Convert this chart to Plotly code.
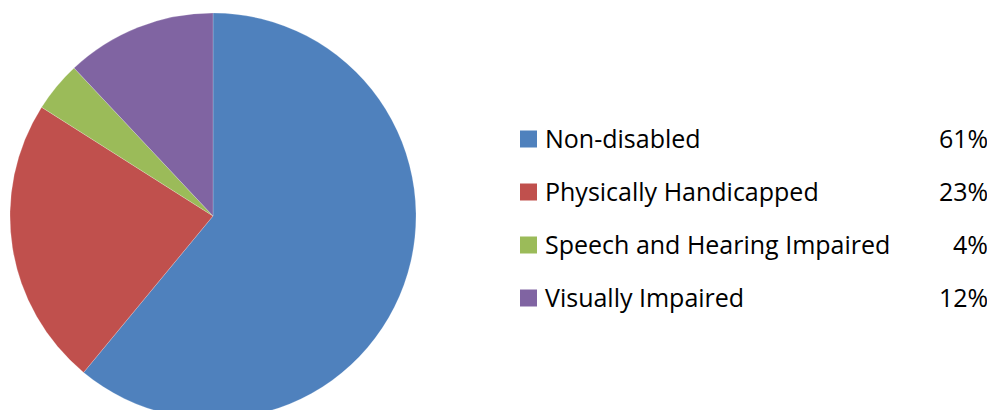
import plotly.graph_objects as go

categories = ["Non-disabled", "Physically Handicapped", "Speech and Hearing Impaired", "Visually Impaired"]
values = [61, 23, 4, 12]
colors = ["#4F81BD", "#C0504D", "#9BBB59", "#8064A2"]

W, H = 995, 416
OFF = 8  # page body offset
FONT = "Open Sans"

fig = go.Figure()
fig.add_trace(go.Pie(
    labels=categories,
    values=values,
    sort=False,
    direction="clockwise",
    rotation=0,
    marker=dict(colors=colors, line=dict(color="rgba(255,255,255,0.4)", width=0.5)),
    textinfo="none",
    hoverinfo="label+percent",
    showlegend=False,
    domain=dict(x=[2 / W, 408 / W], y=[0, 1]),
))

row_y = [139, 192, 245, 298]
for cat, val, col, yy in zip(categories, values, colors, row_y):
    py = yy - OFF
    fig.add_shape(type="rect", xref="paper", yref="paper",
                  x0=(520 - OFF) / W, x1=(537 - OFF) / W,
                  y0=1 - (py + 8.5) / H, y1=1 - (py - 8.5) / H,
                  fillcolor=col, line=dict(width=0))
    fig.add_annotation(x=(543 - OFF) / W, y=1 - (py - 1) / H, xref="paper", yref="paper",
                       text=cat, showarrow=False, xanchor="left", yanchor="middle",
                       font=dict(family=FONT, size=25, color="#000000"))
    fig.add_annotation(x=(990 - OFF) / W, y=1 - (py - 1) / H, xref="paper", yref="paper",
                       text=f"{val}%", showarrow=False, xanchor="right", yanchor="middle",
                       font=dict(family=FONT, size=25, color="#000000"))

fig.update_layout(
    width=W, height=H,
    margin=dict(l=0, r=0, t=0, b=0),
    paper_bgcolor="white",
    plot_bgcolor="white",
    font=dict(family=FONT),
)

fig.write_html("out.html")
